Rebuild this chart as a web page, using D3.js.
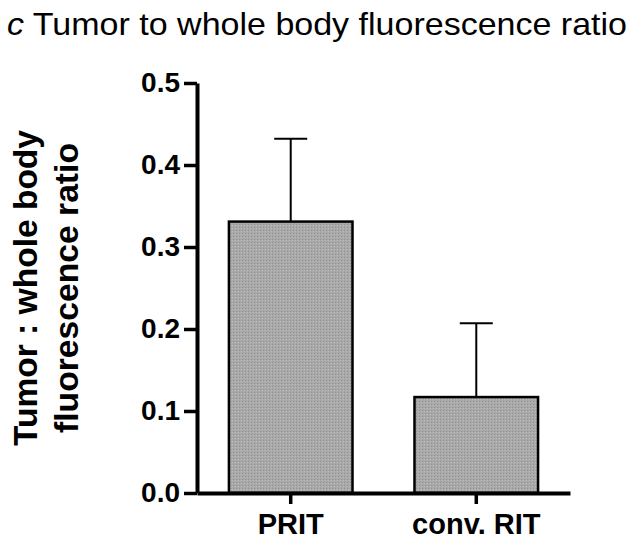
<!DOCTYPE html>
<html>
<head>
<meta charset="utf-8">
<script src="https://cdn.jsdelivr.net/npm/d3@7"></script>
<style>
  body { margin: 0; background: #fff; }
  text { font-family: "Liberation Sans", Arial, sans-serif; }
</style>
</head>
<body>
<div id="chart"></div>
<script>
// values
var groups = ["PRIT", "conv. RIT"];
var means = [0.331, 0.117];
var errors = [0.101, 0.090];
var y_ticks = [0.0, 0.1, 0.2, 0.3, 0.4, 0.5];

var svg = d3.select("#chart").append("svg").attr("width", 632).attr("height", 546);

var margin = {top: 83, left: 197, right: 62, bottom: 53};
var width = 632 - margin.left - margin.right;
var height = 546 - margin.top - margin.bottom;

var defs = svg.append("defs");
var pat = defs.append("pattern")
  .attr("id", "grain")
  .attr("width", 3).attr("height", 3)
  .attr("patternUnits", "userSpaceOnUse");
pat.append("rect").attr("width", 3).attr("height", 3).attr("fill", "#a9a9a9");
pat.append("rect").attr("width", 1).attr("height", 1).attr("fill", "#8f8f8f");
pat.append("rect").attr("x", 2).attr("y", 1).attr("width", 1).attr("height", 1).attr("fill", "#bdbdbd");

svg.append("text")
  .attr("x", 7).attr("y", 35)
  .attr("textLength", 620).attr("lengthAdjust", "spacingAndGlyphs")
  .style("font-size", "32px")
  .html('<tspan font-style="italic">c</tspan> Tumor to whole body fluorescence ratio');

var g = svg.append("g")
  .attr("transform", "translate(" + margin.left + "," + margin.top + ")");

var x = d3.scaleBand().domain(groups).range([0, width]).paddingInner(0.334).paddingOuter(0.172);
var y = d3.scaleLinear().domain([0, 0.5]).range([height, 0]);

// bars
g.selectAll("rect.bar").data(groups).enter().append("rect")
  .attr("class", "bar")
  .attr("x", function(d) { return x(d); })
  .attr("width", x.bandwidth())
  .attr("y", function(d, i) { return y(means[i]); })
  .attr("height", function(d, i) { return y(0) - y(means[i]); })
  .attr("fill", "url(#grain)")
  .attr("stroke", "#000")
  .attr("stroke-width", 2.5);

// upper error bars
var cap = 33;
groups.forEach(function(d, i) {
  var cx = x(d) + x.bandwidth() / 2;
  g.append("line")
    .attr("x1", cx).attr("x2", cx)
    .attr("y1", y(means[i])).attr("y2", y(means[i] + errors[i]))
    .attr("stroke", "#000").attr("stroke-width", 2);
  g.append("line")
    .attr("x1", cx - cap / 2).attr("x2", cx + cap / 2)
    .attr("y1", y(means[i] + errors[i])).attr("y2", y(means[i] + errors[i]))
    .attr("stroke", "#000").attr("stroke-width", 2);
});

// axes
var y_axis = g.append("g")
  .call(d3.axisLeft(y).tickValues(y_ticks).tickFormat(d3.format(".1f")).tickSize(13).tickSizeOuter(0).tickPadding(4));
var x_axis = g.append("g")
  .attr("transform", "translate(0," + height + ")")
  .call(d3.axisBottom(x).tickSize(11).tickSizeOuter(0).tickPadding(9));

[y_axis, x_axis].forEach(function(a) {
  a.select(".domain").attr("stroke-width", 4);
  a.selectAll(".tick line").attr("stroke-width", 3.5);
  a.selectAll(".tick text")
    .style("font-size", "28px")
    .style("font-weight", "bold")
    .style("font-family", '"Liberation Sans", Arial, sans-serif')
    .attr("fill", "#000");
});
x_axis.selectAll(".tick text").style("font-size", "29px");

// y title
var yt = svg.append("text")
  .attr("transform", "translate(37,288) rotate(-90)")
  .attr("text-anchor", "middle")
  .style("font-size", "33px")
  .style("font-weight", "bold");
yt.append("tspan").attr("x", 0).attr("dy", 0)
  .attr("textLength", 316).attr("lengthAdjust", "spacingAndGlyphs")
  .text("Tumor : whole body");
yt.append("tspan").attr("x", 0).attr("dy", 41)
  .attr("textLength", 290).attr("lengthAdjust", "spacingAndGlyphs")
  .text("fluorescence ratio");
</script>
</body>
</html>
